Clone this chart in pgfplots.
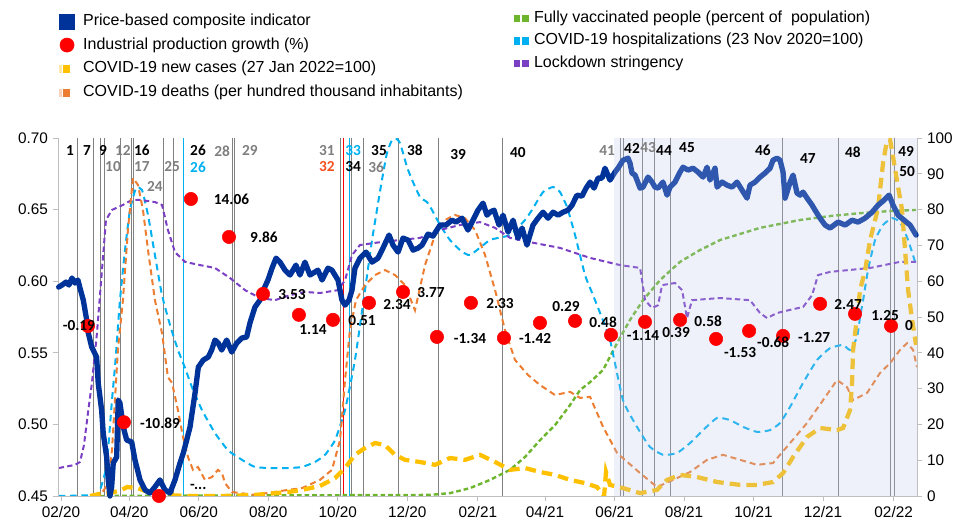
\documentclass[border=0pt]{standalone}
\usepackage{pgfplots}
\pgfplotsset{compat=1.18}
\usepackage{fontspec}
\setmainfont{Liberation Sans}
\newfontfamily\calib{Carlito}
\newcommand{\lb}{\calib\bfseries\fontsize{11.5}{13}\selectfont}
\definecolor{pbblue}{HTML}{003399}
\definecolor{ipred}{HTML}{FF0000}
\definecolor{cyel}{HTML}{FFC000}
\definecolor{corange}{HTML}{ED7D31}
\definecolor{cgreen}{HTML}{6CB52D}
\definecolor{ccyan}{HTML}{00B0F0}
\definecolor{cpurple}{HTML}{7B3FC4}
\definecolor{shadecol}{HTML}{BAC6EB}
\definecolor{lblgray}{HTML}{7F7F7F}
\definecolor{lblorange}{HTML}{F4511E}
\definecolor{axisgray}{HTML}{BFBFBF}
\definecolor{vgray}{HTML}{808080}
\pgfplotsset{common/.style={at={(0,0)}, anchor=south west, scale only axis, width=644.25pt, height=268.5pt,
 xmin=-2.6, xmax=751.5}}
\begin{document}
\begin{tikzpicture}
\path[use as bounding box] (-43.5pt,-21pt) rectangle (682.5pt,372pt);
% ---------------- right axis: COVID series ----------------
\begin{axis}[common, ymin=0, ymax=100,
 axis x line=none, axis y line*=right,
 ytick={0,10,...,100},
 y axis line style={axisgray, line width=0.6pt},
 ytick style={axisgray, line width=0.6pt}, tick align=outside, major tick length=4pt,
 /pgf/number format/assume math mode=true,
 yticklabel style={font=\fontsize{11.5}{13}\selectfont, text=black},
 legend cell align=left,
 legend style={draw=none, fill=none, at={(0.530,1.358)}, anchor=north west,
   font=\fontsize{12}{14}\selectfont, inner sep=0pt, row sep=4.9pt,
   nodes={inner ysep=0pt, text height=9pt, text depth=3pt}},
]
\addlegendimage{legend image code/.code={\fill[cgreen] (0pt,-2.4pt) rectangle (4pt,2.4pt);\fill[cgreen] (6.6pt,-2.4pt) rectangle (10.6pt,2.4pt);\path (13pt,0pt);}}
\addlegendimage{legend image code/.code={\fill[ccyan] (0pt,-2.4pt) rectangle (4pt,2.4pt);\fill[ccyan] (6.6pt,-2.4pt) rectangle (10.6pt,2.4pt);\path (13pt,0pt);}}
\addlegendimage{legend image code/.code={\fill[cpurple] (0pt,-2.4pt) rectangle (4pt,2.4pt);\fill[cpurple] (6.6pt,-2.4pt) rectangle (10.6pt,2.4pt);\path (13pt,0pt);}}
\legend{Fully vaccinated people (percent of\ \ population),COVID-19 hospitalizations (23 Nov 2020=100),Lockdown stringency}
% vertical event lines
\addplot[ycomb, draw=vgray, line width=0.6pt, mark=none] coordinates {
(14.7,100) (28.1,100) (34.2,100) (37.8,100) (51.8,100) (62.1,100) (63.8,100) (89.6,100) (98.3,100)
(150.1,100) (152.2,100) (245.6,100) (254.6,100) (265.4,100) (296.1,100) (331.0,100) (387.4,100)
(490.8,100) (493.7,100) (510.4,100) (520.9,100) (534.7,100) (633.6,100) (682.4,100) (728.4,100) (731.3,100)};
\addplot[ycomb, draw=ccyan, line width=0.6pt, mark=none] coordinates {(107.1,100) (253.1,100)};
\addplot[ycomb, draw=ipred, line width=0.6pt, mark=none] coordinates {(247.9,100)};
% fully vaccinated
\addplot[cgreen, line width=1.8pt, dash pattern=on 3.5pt off 2.2pt] coordinates {
(27,0) (324.0,0.3) (341.5,0.8) (359.1,2.2) (376.7,4.5) (394.2,7.3) (407.4,10.9) (420.6,15.6) (433.7,19.8)
(446.9,25.4) (455.7,29.6) (464.5,31.8) (475.9,35.2) (488.2,42.7) (499.6,49.2) (511.0,54.7) (525.9,60.3)
(543.5,65.4) (561.0,68.7) (578.6,71.5) (596.2,73.2) (613.7,74.9) (631.3,76.0) (648.8,77.1) (675.2,78.2)
(701.5,79.0) (727.9,79.6) (750.7,79.9)};
% hospitalizations
\addplot[ccyan, line width=1.5pt, dash pattern=on 5pt off 3.5pt, smooth, tension=0.3] coordinates {
(-2,0) (29.9,0.3) (34.3,1.7) (38.6,6.4) (41.3,12.8) (44.8,26.8) (47.4,36.0) (49.2,43.6) (51.8,54.7)
(56.2,68.7) (60.6,79.9) (65.9,86.0) (71.1,85.5) (76.4,78.5) (82.5,67.3) (88.7,56.1) (95.7,47.8)
(102.7,40.8) (108.9,35.8) (115.0,30.4) (123.8,24.0) (135.2,17.6) (146.6,12.8) (158.9,10.1) (170.3,8.1)
(185.3,7.8) (199.3,7.8) (211.6,8.1) (223.0,9.5) (231.8,11.5) (240.6,15.6) (249.4,24.0) (258.1,38.0)
(266.9,57.5) (273.1,71.5) (277.4,79.9) (281.8,88.3) (286.2,95.8) (290.6,99.4) (295.0,99.7) (297.6,98.6)
(300.3,95.8) (303.8,91.9) (308.2,88.3) (315.2,83.5) (321.3,82.1) (325.7,79.9) (332.8,75.7) (341.5,71.5)
(350.3,68.7) (359.1,67.3) (376.7,71.5) (394.2,72.9) (407.4,77.1) (413.5,79.9) (423.2,84.9) (432.0,86.3)
(438.1,84.9) (444.3,80.7) (451.3,72.9) (460.1,61.7) (467.1,56.1) (473.3,51.1) (482.0,43.6) (493.4,26.8)
(505.7,19.3) (517.1,13.7) (528.6,11.5) (540.8,12.0) (552.3,14.8) (563.7,18.4) (576.0,21.8) (587.4,21.2)
(598.8,19.3) (611.1,17.9) (622.5,18.4) (631.3,20.4) (640.1,24.9) (651.5,31.6) (663.8,38.0) (675.2,41.3)
(686.6,42.2) (692.7,40.8) (698.9,44.4) (701.5,50.0) (704.2,54.7) (708.5,63.1) (714.7,71.5) (721.7,75.7)
(729.6,77.6) (736.6,76.5) (743.7,71.5) (750.7,64.5)};
% lockdown stringency
\addplot[cpurple, line width=1.5pt, dash pattern=on 4pt off 2.5pt] coordinates {
(-2,7.8) (12.3,8.7) (16.7,9.5) (20.2,14.2) (23.7,23.2) (27.2,31.6) (31.6,45.5) (36.0,63.1) (39.5,77.1)
(44.8,79.9) (54.4,81.3) (62.3,82.7) (69.4,82.7) (82.5,82.1) (88.7,81.3) (93.9,74.3) (100.1,68.1)
(108.9,65.4) (122.0,64.5) (135.2,63.7) (148.4,60.9) (161.6,57.5) (174.7,55.3) (187.9,54.7) (201.1,56.1)
(214.2,57.0) (227.4,56.7) (243.2,57.5) (249.4,60.3) (255.5,67.3) (262.5,70.1) (280.1,70.9) (297.6,71.5)
(315.2,72.1) (332.8,74.3) (350.3,75.7) (367.9,76.5) (381.1,74.9) (394.2,72.1) (411.8,70.9) (438.1,69.3)
(464.5,66.5) (490.8,64.5) (508.4,63.7) (512.8,54.7) (518.9,52.5) (524.2,53.3) (527.7,58.9) (539.1,59.5)
(545.3,57.5) (549.6,49.7) (554.0,54.7) (578.6,55.3) (604.9,54.7) (613.7,51.1) (619.9,49.7) (628.6,51.1)
(640.1,52.0) (651.5,52.8) (659.4,56.1) (664.6,61.7) (675.2,62.6) (710.3,63.7) (736.6,65.4) (750.7,65.4)};
% deaths
\addplot[corange, line width=1.5pt, dash pattern=on 4.5pt off 3pt] coordinates {
(30,0) (34.2,0) (37.8,1.7) (41.3,3.6) (44.8,12.8) (47.4,26.8) (50.0,40.8) (54.4,54.7) (58.8,74.3)
(63.2,88.8) (67.6,86.9) (72.0,79.9) (76.4,68.7) (82.5,54.7) (88.7,45.5) (93.9,33.2) (97.5,31.6)
(102.7,24.0) (107.1,16.5) (111.5,10.9) (115.9,7.3) (120.3,8.1) (126.4,4.5) (132.6,5.3) (137.8,7.3)
(141.4,6.4) (144.0,3.6) (150.1,1.1) (170.3,0.3) (199.3,1.7) (211.6,2.2) (227.4,4.5) (237.9,7.3)
(245.0,15.6) (249.4,32.4) (253.7,46.4) (259.0,54.7) (266.9,58.9) (275.7,61.7) (284.5,63.1) (293.3,61.7)
(302.0,58.9) (310.8,51.9) (319.6,64.5) (328.4,72.9) (337.2,77.1) (345.9,78.5) (354.7,77.6) (363.5,74.3)
(372.3,67.3) (381.1,57.5) (389.8,46.4) (398.6,38.0) (410.0,33.8) (420.6,31.0) (433.7,28.2) (446.9,29.1)
(455.7,27.4) (464.5,27.7) (475.9,19.3) (488.2,12.0) (508.4,6.4) (523.3,2.5) (537.3,4.5) (552.3,6.7)
(567.2,10.1) (581.2,11.5) (596.2,10.1) (611.1,8.7) (625.1,9.2) (640.1,14.8) (655.0,20.4) (669.1,26.8)
(681.3,32.4) (690.1,30.4) (695.4,26.8) (707.7,28.8) (719.1,34.4) (727.9,37.1) (736.6,40.8) (742.8,42.7)
(748.1,40.8) (751.5,36.0)};
% new cases
\addplot[cyel, line width=3.2pt, dash pattern=on 8pt off 4.5pt] coordinates {
(25.5,0) (34.2,0.6) (43.0,0.8) (53.6,1.7) (57.9,2.5) (67.6,2.2) (76.4,1.1) (88.7,0.3) (111.5,0)
(141.4,0) (170.3,0.3) (199.3,1.1) (211.6,1.7) (227.4,2.8) (240.6,5.0) (249.4,7.8) (258.1,11.5)
(266.9,13.4) (275.7,14.8) (284.5,14.2) (293.3,11.5) (302.0,10.1) (315.2,9.5) (328.4,8.7) (341.5,10.6)
(354.7,10.1) (367.9,11.5) (381.1,9.5) (394.2,7.3) (407.4,7.8) (420.6,6.7) (433.7,5.9) (446.9,4.5)
(460.1,3.6) (470.6,2.5) (476.8,0) (478.5,6.7) (482.0,3.1) (493.4,2.2) (508.4,0.8) (523.3,1.7)
(532.1,4.5) (543.5,5.9) (558.4,5.3) (576.0,3.9) (596.2,3.1) (611.1,3.1) (625.1,3.9) (633.9,6.4)
(642.7,10.9) (655.0,16.5) (666.4,19.0) (681.3,18.4) (686.6,19.0) (692.7,24.0) (694.5,31.6) (695.4,40.8)
(698.9,50.0) (701.5,57.5) (706.0,63.1) (710.3,71.5) (714.7,77.1) (717.3,80.4) (721.7,93.0) (725.2,99.4)
(727.9,99.4) (730.5,94.7) (734.9,86.3) (738.4,79.9) (741.0,68.7) (743.7,57.5) (747.2,49.2) (750.7,42.2)};
\end{axis}
% ---------------- left axis: price indicator ----------------
\begin{axis}[common, ymin=0.45, ymax=0.70, clip=false,
 axis x line*=bottom, axis y line*=left,
 xtick={0,60,121,182,243,304,366,425,486,547,608,669,731},
 xticklabels={02/20,04/20,06/20,08/20,10/20,12/20,02/21,04/21,06/21,08/21,10/21,12/21,02/22},
 ytick={0.45,0.50,0.55,0.60,0.65,0.70},
 yticklabel style={/pgf/number format/.cd, fixed, fixed zerofill, precision=2},
 /pgf/number format/assume math mode=true,
 tick label style={font=\fontsize{11.5}{13}\selectfont, text=black},
 axis line style={axisgray, line width=0.6pt},
 tick style={axisgray, line width=0.6pt}, tick align=outside, major tick length=4pt,
 legend cell align=left,
 legend style={draw=none, fill=none, at={(0.0012,1.349)}, anchor=north west,
   font=\fontsize{12}{14}\selectfont, inner sep=0pt, row sep=5.8pt,
   nodes={inner ysep=0pt, text height=9pt, text depth=3pt}},
]
\addlegendimage{legend image code/.code={\fill[pbblue] (0pt,-5.6pt) rectangle (11.2pt,5.6pt);\path (15.5pt,0pt);}}
\addlegendimage{legend image code/.code={\fill[ipred] (5.6pt,0pt) circle (5.3pt);\path (15.5pt,0pt);}}
\addlegendimage{legend image code/.code={\fill[cyel!35] (0pt,-2.6pt) rectangle (1.2pt,2.6pt);\fill[cyel] (3pt,-2.6pt) rectangle (7pt,2.6pt);\path (15.5pt,0pt);}}
\addlegendimage{legend image code/.code={\fill[corange!35] (0pt,-2.6pt) rectangle (1.2pt,2.6pt);\fill[corange] (3pt,-2.6pt) rectangle (7pt,2.6pt);\path (15.5pt,0pt);}}
\legend{Price-based composite indicator,Industrial production growth (\%),COVID-19 new cases (27 Jan 2022=100),COVID-19 deaths (per hundred thousand inhabitants)}
% price-based composite indicator
\addplot[pbblue, line width=4pt, line join=round, line cap=round] coordinates {
(-2.0,0.5959) (0.9,0.5973) (4.4,0.5994) (7.0,0.5973) (9.7,0.6022) (12.3,0.5987) (14.9,0.6008) (16.7,0.5952)
(19.6,0.5868) (22.6,0.5728) (24.0,0.5638) (27.0,0.5540) (31.3,0.5470) (32.7,0.5289) (35.7,0.5100) (37.1,0.4940)
(40.1,0.4772) (41.5,0.4612) (43.0,0.4500) (44.5,0.4563) (45.9,0.4730) (48.9,0.4772) (50.3,0.5170) (51.8,0.5149)
(54.7,0.4982) (57.7,0.4891) (62.1,0.4877) (65.0,0.4751) (69.4,0.4612) (73.8,0.4542) (78.1,0.4521) (82.5,0.4563)
(86.9,0.4612) (91.3,0.4542) (95.7,0.4521) (100.1,0.4612) (104.5,0.4730) (107.4,0.4800) (110.4,0.4891) (113.3,0.4982)
(117.7,0.5219) (120.6,0.5400) (124.9,0.5449) (129.3,0.5470) (132.3,0.5519) (135.2,0.5589) (138.1,0.5568) (141.1,0.5519)
(145.5,0.5589) (149.9,0.5505) (154.3,0.5568) (158.7,0.5603) (163.0,0.5610) (165.9,0.5708) (170.3,0.5819) (174.7,0.5868)
(176.5,0.5917) (181.7,0.6008) (185.3,0.6091) (188.8,0.6161) (192.3,0.6133) (196.7,0.6077) (201.1,0.6043) (206.3,0.6112)
(209.8,0.6043) (214.2,0.6133) (218.6,0.6043) (225.6,0.6077) (229.2,0.6008) (234.4,0.6091) (237.9,0.6077) (243.2,0.6008)
(246.7,0.5868) (249.4,0.5833) (252.9,0.5868) (255.5,0.5938) (258.1,0.6091) (262.5,0.6161) (267.8,0.6203) (273.1,0.6133)
(278.3,0.6161) (282.7,0.6231) (288.0,0.6322) (291.5,0.6252) (295.9,0.6203) (300.3,0.6301) (304.7,0.6287) (309.1,0.6217)
(313.4,0.6231) (317.0,0.6252) (322.2,0.6329) (326.6,0.6315) (332.8,0.6392) (338.0,0.6392) (343.3,0.6426) (346.8,0.6413)
(352.1,0.6440) (357.3,0.6357) (360.9,0.6413) (366.1,0.6496) (370.5,0.6545) (374.0,0.6461) (376.7,0.6482) (380.2,0.6496)
(384.6,0.6392) (388.1,0.6461) (392.5,0.6343) (396.9,0.6426) (401.2,0.6301) (404.8,0.6371) (409.1,0.6252) (414.4,0.6392)
(418.8,0.6440) (423.2,0.6482) (427.6,0.6440) (432.0,0.6482) (436.4,0.6461) (440.8,0.6482) (445.1,0.6496) (448.7,0.6531)
(453.0,0.6601) (457.4,0.6594) (461.0,0.6650) (464.5,0.6692) (468.0,0.6650) (471.5,0.6720) (475.0,0.6720) (477.6,0.6789)
(482.0,0.6706) (486.4,0.6762) (489.0,0.6789) (493.4,0.6845) (497.8,0.6859) (499.6,0.6824) (501.3,0.6755) (504.0,0.6741)
(505.7,0.6706) (508.4,0.6650) (511.0,0.6657) (515.4,0.6727) (518.9,0.6692) (521.5,0.6657) (524.2,0.6650) (528.5,0.6692)
(532.1,0.6601) (534.7,0.6657) (539.1,0.6692) (543.5,0.6762) (546.1,0.6796) (550.5,0.6776) (554.9,0.6789) (559.3,0.6762)
(563.7,0.6727) (567.2,0.6796) (569.8,0.6706) (574.2,0.6789) (576.0,0.6657) (580.4,0.6692) (584.7,0.6671) (589.1,0.6657)
(593.5,0.6692) (597.9,0.6636) (602.3,0.6580) (604.9,0.6671) (609.3,0.6692) (613.7,0.6727) (618.1,0.6755) (622.5,0.6789)
(625.1,0.6845) (628.6,0.6859) (631.3,0.6845) (633.9,0.6762) (635.7,0.6580) (637.4,0.6622) (640.1,0.6692) (642.7,0.6741)
(646.2,0.6615) (648.8,0.6601) (651.5,0.6622) (655.0,0.6580) (659.4,0.6531) (662.0,0.6496) (666.4,0.6440) (670.8,0.6392)
(675.2,0.6371) (682.2,0.6413) (688.4,0.6392) (694.5,0.6426) (699.8,0.6413) (705.9,0.6440) (712.1,0.6482) (717.3,0.6531)
(722.6,0.6566) (727.0,0.6601) (730.5,0.6531) (734.9,0.6461) (740.2,0.6426) (745.4,0.6392) (750.7,0.6322)};
% shaded period (semi-transparent overlay)
\addplot[draw=none, fill=shadecol, fill opacity=0.25] coordinates {(485.5,0.45) (485.5,0.70) (751.5,0.70) (751.5,0.45)} -- cycle;
% industrial production growth dots
\addplot[only marks, ipred, mark=*, mark size=5pt, mark options={fill=ipred, draw=ipred}] coordinates {
(23.7,0.5687) (55.3,0.5015) (86.0,0.4500) (114.1,0.6574) (147.5,0.6309) (177.4,0.5911) (208.9,0.5765) (238.8,0.5730)
(270.4,0.5849) (300.3,0.5925) (330.1,0.5611) (359.9,0.5849) (388.9,0.5604) (420.5,0.5709) (451.3,0.5723) (482.9,0.5625)
(512.7,0.5716) (543.5,0.5730) (575.1,0.5597) (604.1,0.5653) (633.9,0.5618) (666.4,0.5842) (697.1,0.5772) (728.7,0.5688)};
\end{axis}
% ---------------- labels on top ----------------
\begin{axis}[common, ymin=0.45, ymax=0.70, clip=false, hide axis]
\begin{scope}[every node/.style={font=\lb, text=black, inner sep=0pt}]
\node at (axis cs:15.8,0.5687) {-0.19};
\node at (axis cs:86.9,0.5010) {-10.89};
\node at (axis cs:120.6,0.4565) {-...};
\node at (axis cs:149.7,0.6574) {14.06};
\node at (axis cs:178.2,0.6308) {9.86};
\node at (axis cs:202.8,0.5910) {3.53};
\node at (axis cs:221.3,0.5659) {1.14};
\node at (axis cs:264.3,0.5722) {0.51};
\node at (axis cs:295.0,0.5840) {2.34};
\node at (axis cs:324.9,0.5924) {3.77};
\node at (axis cs:359.1,0.5603) {-1.34};
\node at (axis cs:385.4,0.5847) {2.33};
\node at (axis cs:416.2,0.5603) {-1.42};
\node at (axis cs:443.4,0.5826) {0.29};
\node at (axis cs:475.9,0.5715) {0.48};
\node at (axis cs:511.0,0.5617) {-1.14};
\node at (axis cs:540.0,0.5645) {0.39};
\node at (axis cs:568.1,0.5722) {0.58};
\node at (axis cs:596.2,0.5505) {-1.53};
\node at (axis cs:625.2,0.5575) {-0.68};
\node at (axis cs:661.2,0.5610) {-1.27};
\node at (axis cs:691.0,0.5840) {2.47};
\node at (axis cs:723.5,0.5763) {1.25};
\node at (axis cs:744.5,0.5687) {0};
% event numbers
\node at (axis cs:7.9,0.6915) {1};
\node at (axis cs:22.8,0.6915) {7};
\node at (axis cs:36.9,0.6915) {9};
\node[text=lblgray] at (axis cs:54.4,0.6915) {12};
\node[text=lblgray] at (axis cs:45.7,0.6798) {10};
\node at (axis cs:71.1,0.6915) {16};
\node[text=lblgray] at (axis cs:71.1,0.6798) {17};
\node[text=lblgray] at (axis cs:82.5,0.6658) {24};
\node[text=lblgray] at (axis cs:97.5,0.6798) {25};
\node at (axis cs:120.3,0.6915) {26};
\node[text=ccyan] at (axis cs:120.3,0.6798) {26};
\node[text=lblgray] at (axis cs:141.4,0.6908) {28};
\node[text=lblgray] at (axis cs:165.9,0.6915) {29};
\node[text=lblgray] at (axis cs:233.5,0.6915) {31};
\node[text=lblorange] at (axis cs:233.5,0.6798) {32};
\node[text=ccyan] at (axis cs:256.4,0.6915) {33};
\node at (axis cs:256.4,0.6798) {34};
\node at (axis cs:279.2,0.6915) {35};
\node[text=lblgray] at (axis cs:276.6,0.6798) {36};
\node at (axis cs:310.8,0.6915) {38};
\node at (axis cs:348.6,0.6888) {39};
\node at (axis cs:401.2,0.6900) {40};
\node[text=lblgray] at (axis cs:479.4,0.6915) {41};
\node at (axis cs:501.3,0.6930) {42};
\node[text=lblgray] at (axis cs:515.4,0.6930) {43};
\node at (axis cs:529.4,0.6915) {44};
\node at (axis cs:549.6,0.6930) {45};
\node at (axis cs:616.3,0.6915) {46};
\node at (axis cs:655.8,0.6860) {47};
\node at (axis cs:695.3,0.6900) {48};
\node at (axis cs:741.9,0.6905) {49};
\node at (axis cs:742.8,0.6768) {50};
\end{scope}
\end{axis}
\end{tikzpicture}
\end{document}
